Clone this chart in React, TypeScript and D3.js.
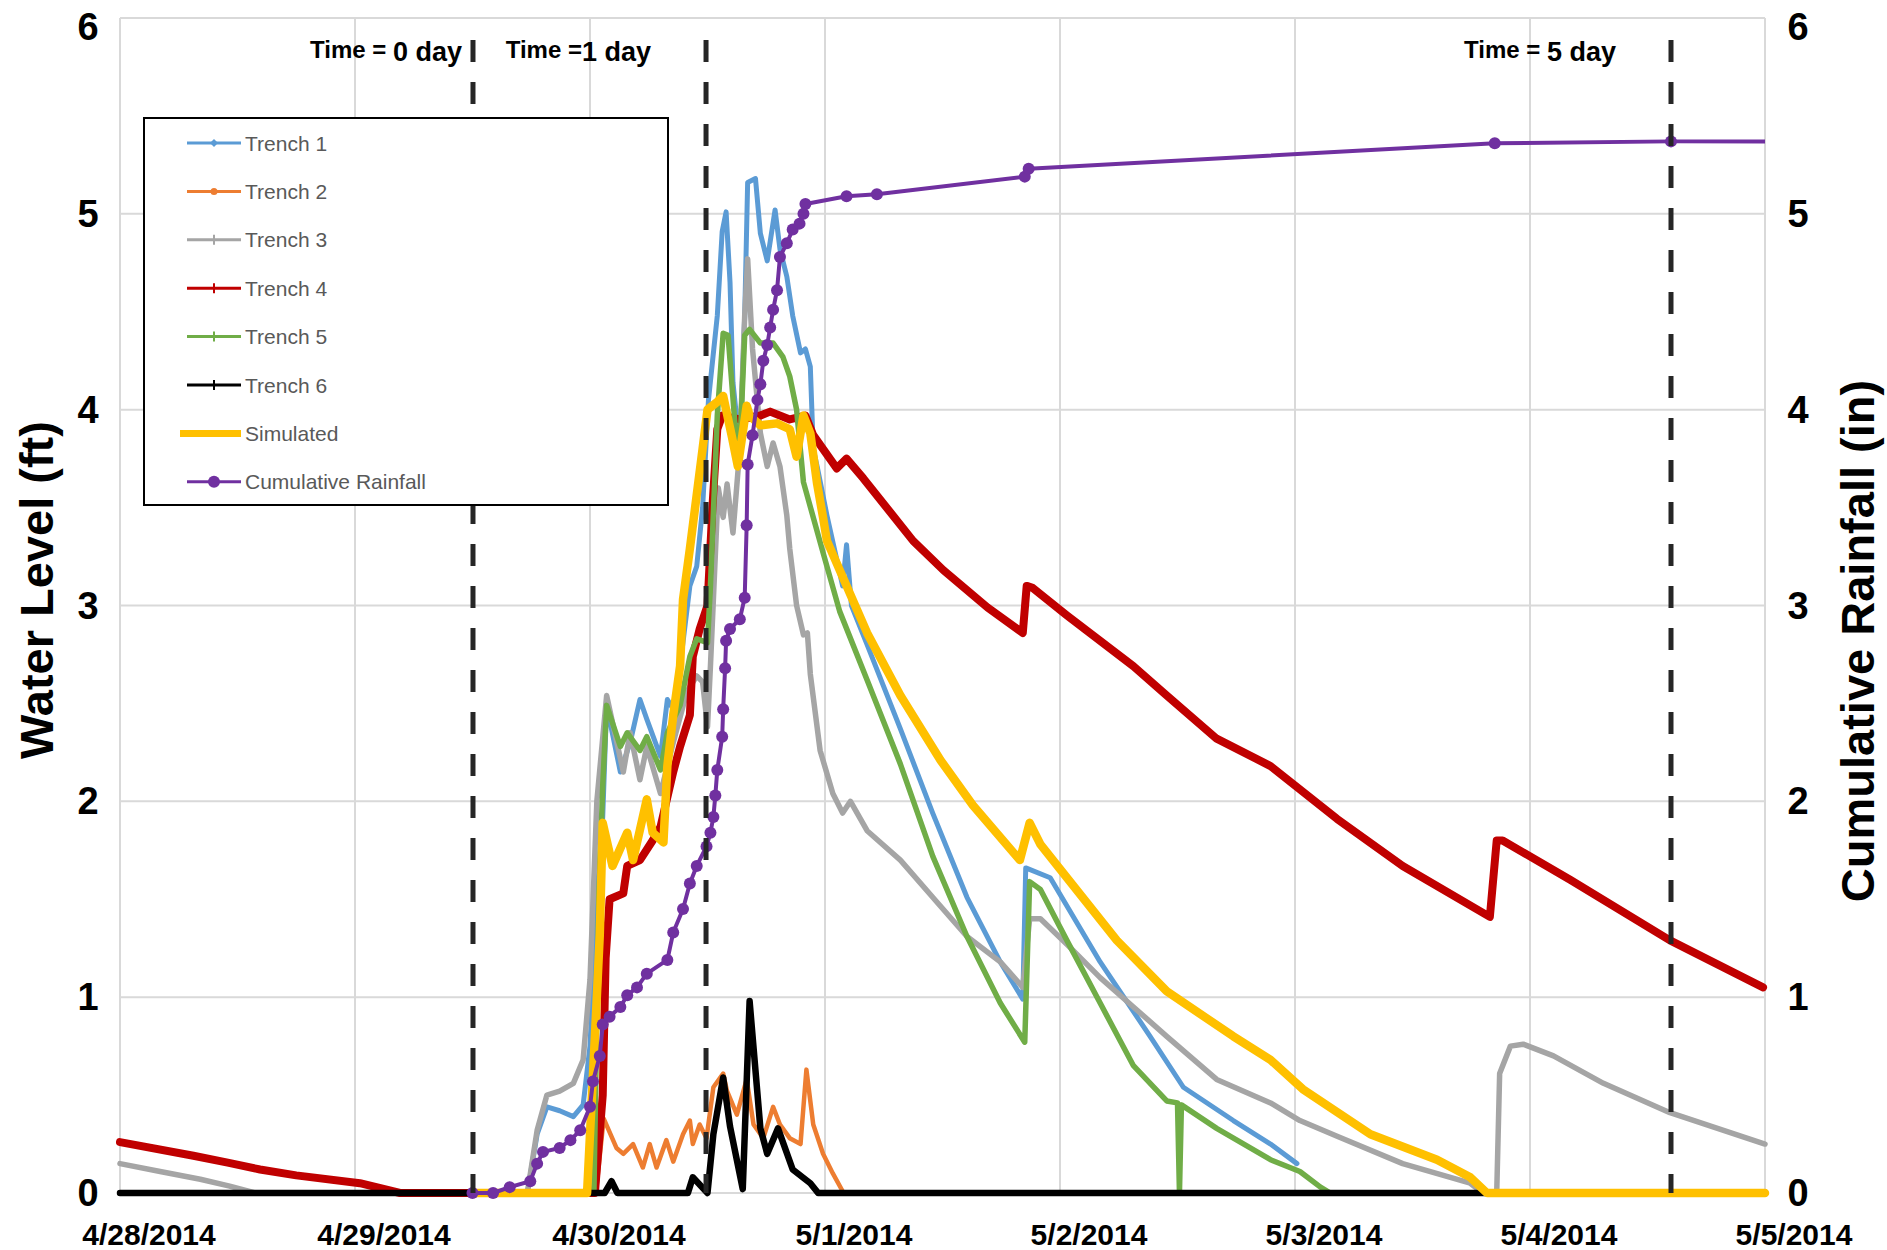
import React from "react";
import * as d3 from "d3";

// hours since 4/28/2014 00:00, value
const trench1: [number, number][] = [
  [0, 0], [41.6, 0], [42.6, 0.3], [43.6, 0.44], [44.9, 0.42], [46.3, 0.39], [47.3, 0.45], [48.0, 0.75],
  [48.7, 1.5], [49.3, 1.92], [49.7, 2.49], [51.1, 2.15], [52.1, 2.3], [53.1, 2.52], [53.8, 2.42],
  [55.2, 2.23], [55.9, 2.52], [56.5, 2.47], [57.2, 2.69], [58.2, 3.1], [58.9, 3.2], [59.5, 3.5],
  [60.1, 4.05], [61.0, 4.48], [61.5, 4.91], [61.9, 5.01], [62.3, 4.65], [62.6, 4.14], [63.3, 3.8],
  [63.8, 4.48], [64.1, 5.16], [64.9, 5.18], [65.4, 4.9], [66.1, 4.76], [66.9, 5.02], [67.4, 4.82],
  [68.1, 4.68], [68.7, 4.48], [69.5, 4.29], [70.0, 4.31], [70.5, 4.22], [70.8, 3.8], [71.2, 3.71],
  [72.2, 3.46], [73.8, 3.1], [74.2, 3.31], [74.7, 3.0], [76.3, 2.8], [79.7, 2.37], [83.0, 1.94],
  [86.5, 1.51], [89.9, 1.18], [92.2, 0.99], [92.5, 1.66], [95.0, 1.61], [100.1, 1.18], [105.2, 0.8],
  [108.6, 0.54], [113.7, 0.37], [117.5, 0.25], [120.2, 0.15],
];

const trench2: [number, number][] = [
  [0, 0], [48.6, 0], [49.4, 0.38], [50.7, 0.23], [51.4, 0.2], [52.4, 0.25], [53.4, 0.13], [54.1, 0.25],
  [54.8, 0.13], [55.8, 0.27], [56.5, 0.16], [57.5, 0.3], [58.2, 0.37], [58.5, 0.25], [59.2, 0.35],
  [59.9, 0.28], [60.6, 0.54], [61.6, 0.61], [62.0, 0.52], [63.0, 0.4], [64.0, 0.58], [64.7, 0.35],
  [65.7, 0.28], [66.7, 0.44], [67.4, 0.35], [68.4, 0.28], [69.5, 0.25], [70.1, 0.63], [70.8, 0.35],
  [71.8, 0.2], [72.8, 0.1], [73.9, 0], [168, 0],
];

const trench3: [number, number][] = [
  [0, 0.15], [4.1, 0.11], [8.2, 0.07], [11.2, 0.035], [13.8, 0], [41.6, 0], [42.6, 0.32], [43.6, 0.5],
  [44.9, 0.52], [46.3, 0.56], [47.3, 0.68], [48.0, 1.09], [48.7, 2.0], [49.7, 2.54], [51.4, 2.15],
  [52.1, 2.35], [53.1, 2.11], [53.8, 2.28], [55.2, 2.04], [56.5, 2.3], [57.9, 2.56], [58.9, 2.64],
  [59.5, 2.61], [60.0, 2.38], [60.3, 2.69], [60.6, 3.03], [61.1, 3.6], [61.6, 3.45], [62.0, 3.62],
  [62.6, 3.37], [63.3, 3.8], [63.8, 4.48], [64.1, 4.77], [64.6, 4.31], [65.4, 3.88], [66.1, 3.71],
  [66.7, 3.83], [67.4, 3.71], [68.1, 3.46], [68.4, 3.29], [69.1, 3.0], [69.8, 2.85], [70.2, 2.86],
  [70.5, 2.65], [71.5, 2.26], [72.8, 2.04], [73.8, 1.94], [74.6, 2.0], [76.3, 1.85], [79.7, 1.7],
  [83.0, 1.51], [86.5, 1.31], [89.9, 1.18], [92.2, 1.05], [92.9, 1.4], [94.0, 1.4], [96.7, 1.27],
  [100.1, 1.1], [103.5, 0.95], [106.9, 0.8], [112.0, 0.58], [117.5, 0.46], [120.5, 0.37], [124.3, 0.29],
  [131.0, 0.15], [137.9, 0.05], [139.2, 0], [140.6, 0], [140.9, 0.61], [142.0, 0.75], [143.3, 0.76],
  [146.4, 0.7], [151.5, 0.56], [158.3, 0.41], [168, 0.25],
];

const trench4: [number, number][] = [
  [0, 0.26], [7.5, 0.19], [11.0, 0.155], [14.3, 0.12], [18.0, 0.09], [24.5, 0.05], [28.6, 0], [48.5, 0],
  [49.3, 0.5], [49.6, 1.2], [50.0, 1.5], [51.4, 1.53], [51.8, 1.67], [53.1, 1.7], [54.4, 1.8], [55.2, 1.87],
  [56.5, 2.15], [57.2, 2.28], [58.2, 2.44], [58.5, 2.74], [59.2, 2.88], [60.0, 3.0], [60.5, 3.5],
  [61.0, 3.9], [61.5, 3.97], [63.3, 3.95], [65.4, 3.97], [66.4, 3.99], [68.4, 3.95], [70.0, 3.97],
  [70.8, 3.87], [73.2, 3.7], [74.2, 3.75], [75.9, 3.65], [81.0, 3.33], [84.1, 3.18], [88.6, 2.99],
  [92.2, 2.86], [92.6, 3.1], [93.2, 3.09], [96.7, 2.95], [103.5, 2.69], [106.9, 2.54], [112.0, 2.32],
  [117.5, 2.18], [124.3, 1.91], [131.0, 1.67], [139.9, 1.41], [140.6, 1.8], [141.2, 1.8], [148.1, 1.6],
  [158.3, 1.29], [167.8, 1.05],
];

const trench5: [number, number][] = [
  [0, 0], [48.4, 0], [48.9, 1.5], [49.3, 2.08], [49.7, 2.49], [51.1, 2.28], [51.8, 2.35], [53.1, 2.26],
  [53.8, 2.33], [55.2, 2.16], [55.9, 2.35], [57.2, 2.49], [58.2, 2.74], [58.9, 2.83], [60.0, 2.81],
  [60.3, 3.1], [61.0, 3.97], [61.6, 4.39], [62.1, 4.38], [62.8, 3.93], [63.3, 3.8], [63.8, 4.38],
  [64.3, 4.41], [65.4, 4.34], [66.7, 4.34], [67.7, 4.27], [68.4, 4.17], [69.1, 4.0], [69.8, 3.63],
  [71.8, 3.27], [73.5, 2.97], [76.3, 2.62], [79.7, 2.19], [83.0, 1.72], [86.5, 1.31], [89.9, 0.97],
  [92.4, 0.77], [92.9, 1.59], [94.0, 1.55], [96.7, 1.29], [100.1, 0.97], [103.5, 0.65], [106.9, 0.47],
  [108.0, 0.46], [108.2, 0], [108.4, 0.45], [112.0, 0.33], [117.5, 0.17], [120.5, 0.11], [122.6, 0.03],
  [123.6, 0], [168, 0],
];

const trench6: [number, number][] = [
  [0, 0], [49.5, 0], [50.2, 0.06], [50.8, 0], [58.0, 0], [58.5, 0.08], [60.0, 0], [60.6, 0.3],
  [61.6, 0.59], [62.3, 0.34], [63.6, 0.02], [64.3, 0.98], [65.4, 0.33], [66.1, 0.2], [67.2, 0.33],
  [68.7, 0.12], [70.5, 0.05], [71.3, 0], [168, 0],
];

const simulated: [number, number][] = [
  [36.0, 0], [47.7, 0], [48.6, 0.9], [49.0, 1.32], [49.3, 1.89], [50.3, 1.67], [51.8, 1.84], [52.4, 1.7],
  [53.8, 2.01], [54.4, 1.84], [55.5, 1.79], [55.9, 2.18], [56.5, 2.44], [57.2, 2.69], [57.5, 3.03],
  [58.2, 3.29], [59.5, 3.8], [60.0, 4.0], [61.0, 4.04], [61.6, 4.07], [62.5, 3.86], [63.1, 3.71],
  [64.0, 4.02], [64.3, 3.97], [65.4, 3.92], [67.1, 3.93], [68.4, 3.9], [69.1, 3.76], [69.8, 3.97],
  [70.5, 3.88], [71.2, 3.62], [71.8, 3.45], [72.2, 3.33], [76.3, 2.86], [79.7, 2.54], [83.8, 2.21],
  [87.1, 1.98], [91.9, 1.7], [92.9, 1.89], [94.0, 1.78], [96.7, 1.61], [101.8, 1.29], [106.9, 1.03],
  [113.7, 0.8], [117.5, 0.68], [120.8, 0.53], [127.7, 0.3], [134.5, 0.17], [137.9, 0.08], [139.6, 0],
  [168, 0],
];

// cumulative rainfall (in), right axis
const rainfall: [number, number][] = [
  [36.0, 0], [38.1, 0], [39.8, 0.03], [41.9, 0.06], [42.6, 0.15], [43.2, 0.21], [44.9, 0.23], [46.0, 0.27],
  [47.0, 0.32], [48.0, 0.44], [48.3, 0.57], [49.0, 0.7], [49.3, 0.86], [50.0, 0.9], [51.1, 0.95],
  [51.8, 1.01], [52.8, 1.05], [53.8, 1.12], [55.9, 1.19], [56.5, 1.33], [57.5, 1.45], [58.2, 1.58],
  [58.9, 1.67], [59.9, 1.77], [60.3, 1.84], [60.6, 1.92], [60.8, 2.03], [61.0, 2.16], [61.5, 2.33],
  [61.6, 2.47], [61.8, 2.68], [61.9, 2.82], [62.3, 2.88], [63.3, 2.93], [63.8, 3.04], [64.0, 3.41],
  [64.1, 3.72], [64.6, 3.87], [65.1, 4.05], [65.4, 4.13], [65.7, 4.25], [66.1, 4.33], [66.4, 4.42],
  [66.7, 4.51], [67.1, 4.61], [67.4, 4.78], [68.1, 4.85], [68.7, 4.92], [69.4, 4.95], [69.8, 5.0],
  [70.0, 5.05], [74.2, 5.09], [77.3, 5.1], [92.4, 5.19], [92.8, 5.23], [140.4, 5.36], [158.4, 5.37],
  [168, 5.37],
];

const dateLabels = ["4/28/2014", "4/29/2014", "4/30/2014", "5/1/2014", "5/2/2014", "5/3/2014", "5/4/2014", "5/5/2014"];
const levelTicks = [0, 1, 2, 3, 4, 5, 6];
const rainTicks = [0, 1, 2, 3, 4, 5, 6];

// vertical reference lines (hours) with their labels
const timeMarks = [
  { hour: 36.05, pre: "Time = ", value: "0 day", gap: 11 },
  { hour: 59.85, pre: "Time =", value: "1 day", gap: 55 },
  { hour: 158.4, pre: "Time = ", value: "5 day", gap: 55 },
];

const START = new Date(2014, 3, 28);
const END = new Date(2014, 4, 5);
const toDate = (h: number) => new Date(START.getTime() + h * 3600e3);

const W = 1887;
const H = 1250;
const left = 120, right = 1765, top = 18, bottom = 1193;

export default function App() {
  const x = d3.scaleTime().domain([START, END]).range([left, right]);
  const y = d3.scaleLinear().domain([0, 6]).range([bottom, top]);
  const yR = d3.scaleLinear().domain([0, 6]).range([bottom, top]);

  const line = d3.line<[number, number]>().x(d => x(toDate(d[0]))).y(d => y(d[1]));
  const lineR = d3.line<[number, number]>().x(d => x(toDate(d[0]))).y(d => yR(d[1]));

  const days = d3.timeDay.range(START, d3.timeDay.offset(END, 1));

  const series = [
    { name: "Trench 1", data: trench1, color: "#5B9BD5", width: 5, marker: "diamond" },
    { name: "Trench 2", data: trench2, color: "#ED7D31", width: 4.5, marker: "circle" },
    { name: "Trench 3", data: trench3, color: "#A5A5A5", width: 5.5, marker: "plus" },
    { name: "Trench 4", data: trench4, color: "#C00000", width: 8, marker: "plus" },
    { name: "Trench 5", data: trench5, color: "#70AD47", width: 5.5, marker: "plus" },
    { name: "Trench 6", data: trench6, color: "#000000", width: 6.5, marker: "plus" },
    { name: "Simulated", data: simulated, color: "#FFC000", width: 8.5, marker: "none" },
  ];

  const legendItems = [
    ...series,
    { name: "Cumulative Rainfall", data: rainfall, color: "#7030A0", width: 4, marker: "bigcircle" },
  ];

  const font = "'Liberation Sans', Arial, sans-serif";

  return (
    <div>
      <style>{`body{margin:0;background:#fff}`}</style>
      <svg width={W} height={H} style={{ display: "block", background: "#fff" }} fontFamily={font}>
        {/* gridlines */}
        {levelTicks.map(t => (
          <line key={"h" + t} x1={left} x2={right} y1={y(t)} y2={y(t)} stroke="#D9D9D9" strokeWidth={2} />
        ))}
        {days.map((d, i) => (
          <line key={"v" + i} x1={x(d)} x2={x(d)} y1={top} y2={bottom} stroke="#D9D9D9" strokeWidth={2} />
        ))}

        {/* water level series */}
        {series.map(s => (
          <path key={s.name} d={line(s.data) || ""} fill="none" stroke={s.color} strokeWidth={s.width}
            strokeLinejoin="round" strokeLinecap="round" />
        ))}

        {/* cumulative rainfall */}
        <path d={lineR(rainfall) || ""} fill="none" stroke="#7030A0" strokeWidth={4} strokeLinejoin="round" />
        {rainfall.slice(0, -1).map((d, i) => (
          <circle key={"r" + i} cx={x(toDate(d[0]))} cy={yR(d[1])} r={6} fill="#7030A0" />
        ))}

        {/* time reference lines */}
        {timeMarks.map(m => (
          <line key={"m" + m.hour} x1={x(toDate(m.hour))} x2={x(toDate(m.hour))} y1={40} y2={bottom}
            stroke="#262626" strokeWidth={5} strokeDasharray="22 20" />
        ))}
        {timeMarks.map(m => (
          <text key={"mt" + m.hour} x={x(toDate(m.hour)) - m.gap} y={58} textAnchor="end"
            fontWeight="bold" fontSize={24} fill="#000">
            {m.pre}
            <tspan fontSize={27} dy={3}>{m.value}</tspan>
          </text>
        ))}

        {/* left axis labels */}
        {levelTicks.map(t => (
          <text key={"l" + t} x={88} y={Math.max(y(t), 27)} textAnchor="middle" dominantBaseline="central"
            fontSize={38} fontWeight="bold" fill="#000">{t}</text>
        ))}
        {/* right axis labels */}
        {rainTicks.map(t => (
          <text key={"r" + t} x={1798} y={Math.max(yR(t), 27)} textAnchor="middle" dominantBaseline="central"
            fontSize={38} fontWeight="bold" fill="#000">{t}</text>
        ))}
        {/* date labels */}
        {days.map((d, i) => (
          <text key={"d" + i} x={x(d) + 29} y={1245} textAnchor="middle" fontSize={30} fontWeight="bold"
            fill="#000">{dateLabels[i]}</text>
        ))}

        {/* axis titles */}
        <text transform="translate(36,590) rotate(-90)" textAnchor="middle" dominantBaseline="central"
          fontSize={47} fontWeight="bold" fill="#000">Water Level (ft)</text>
        <text transform="translate(1857,641) rotate(-90)" textAnchor="middle" dominantBaseline="central"
          fontSize={47} fontWeight="bold" fill="#000">Cumulative Rainfall (in)</text>

        {/* legend */}
        <g>
          <rect x={144} y={118} width={524} height={387} fill="#fff" stroke="#000" strokeWidth={2} />
          {legendItems.map((s, i) => {
            const ly = 143 + i * 48.4;
            const isSim = s.marker === "none";
            return (
              <g key={"lg" + s.name}>
                <line x1={isSim ? 180 : 187} x2={241} y1={ly} y2={ly} stroke={s.color}
                  strokeWidth={isSim ? 7 : 3} />
                {s.marker === "diamond" && (
                  <path d={`M214,${ly - 4}L218,${ly}L214,${ly + 4}L210,${ly}Z`} fill={s.color} />
                )}
                {s.marker === "circle" && <circle cx={214} cy={ly} r={3.5} fill={s.color} />}
                {s.marker === "plus" && (
                  <line x1={214} x2={214} y1={ly - 5} y2={ly + 5} stroke={s.color} strokeWidth={2} />
                )}
                {s.marker === "bigcircle" && <circle cx={214} cy={ly} r={6} fill={s.color} />}
                <text x={245} y={ly} dominantBaseline="central" fontSize={21} fill="#595959">{s.name}</text>
              </g>
            );
          })}
        </g>
      </svg>
    </div>
  );
}
